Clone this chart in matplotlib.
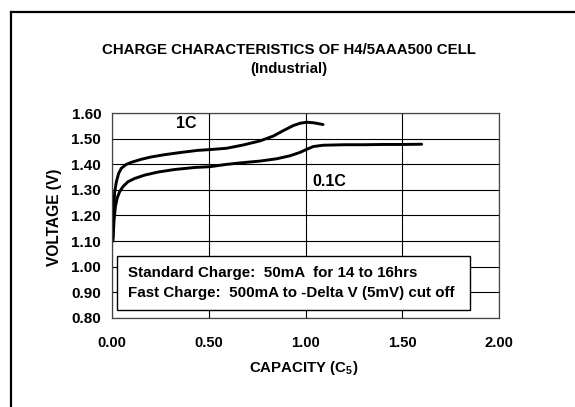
import matplotlib
matplotlib.use("Agg")
import matplotlib.pyplot as plt
from matplotlib.lines import Line2D
from matplotlib.patches import Rectangle

plt.rcParams["font.family"] = ["Liberation Sans", "DejaVu Sans"]
plt.rcParams["font.weight"] = "bold"
plt.rcParams["mathtext.fontset"] = "custom"
plt.rcParams["mathtext.rm"] = "Liberation Sans:bold"

# 1C charge curve (capacity in C5, voltage in V)
cap_1c = [0.003, 0.008, 0.012, 0.021, 0.033, 0.047, 0.072, 0.098, 0.15, 0.20, 0.27,
          0.357, 0.443, 0.505, 0.59, 0.677, 0.764, 0.833, 0.884, 0.936, 0.971,
          1.005, 1.04, 1.077, 1.09]
volt_1c = [1.11, 1.22, 1.29, 1.332, 1.365, 1.385, 1.40, 1.408, 1.42, 1.429, 1.438,
           1.447, 1.455, 1.458, 1.463, 1.476, 1.492, 1.511, 1.532, 1.552, 1.561,
           1.565, 1.563, 1.558, 1.556]

# 0.1C charge curve
cap_01c = [0.003, 0.009, 0.016, 0.026, 0.038, 0.055, 0.081, 0.116, 0.167, 0.236,
           0.322, 0.426, 0.505, 0.59, 0.677, 0.764, 0.85, 0.92, 0.971, 1.005,
           1.04, 1.09, 1.2, 1.3, 1.4, 1.5, 1.6]
volt_01c = [1.10, 1.18, 1.235, 1.27, 1.293, 1.313, 1.332, 1.345, 1.358, 1.37,
            1.38, 1.388, 1.391, 1.40, 1.407, 1.413, 1.422, 1.434, 1.447, 1.459,
            1.47, 1.475, 1.477, 1.477, 1.478, 1.478, 1.479]

x_ticks = [0.0, 0.5, 1.0, 1.5, 2.0]
y_ticks = [0.8, 0.9, 1.0, 1.1, 1.2, 1.3, 1.4, 1.5, 1.6]

W, H = 575, 407
fig = plt.figure(figsize=(W / 100, H / 100), dpi=100)
ax = fig.add_axes([112.3 / W, 1 - 317.7 / H, 386.7 / W, 204.4 / H])

ax.plot(cap_1c, volt_1c, color="black", lw=2.1, solid_capstyle="round")
ax.plot(cap_01c, volt_01c, color="black", lw=2.1, solid_capstyle="round")

ax.set_xlim(0, 2)
ax.set_ylim(0.8, 1.6)
ax.set_xticks(x_ticks)
ax.set_yticks(y_ticks)
ax.set_xticklabels([f"{v:.2f}" for v in x_ticks], fontsize=10.6, fontweight="bold")
ax.set_yticklabels([f"{v:.2f}" for v in y_ticks], fontsize=11, fontweight="bold")
ax.tick_params(axis="x", length=0, pad=13)
ax.tick_params(axis="y", length=0, pad=8)
ax.grid(True, color="black", lw=0.8)
ax.set_axisbelow(True)
for s in ax.spines.values():
    s.set_color("#444444")
    s.set_linewidth(0.9)

ax.text(0.381, 1.562, "1C", fontsize=11.5, fontweight="bold", ha="center", va="center")
ax.text(1.12, 1.335, "0.1C", fontsize=11.5, fontweight="bold", ha="center", va="center")

# note box
ax.add_patch(Rectangle((0.012, 0.038), 0.914, 0.265, transform=ax.transAxes,
                       facecolor="white", edgecolor="black", lw=1.0, zorder=3))
ax.text(0.04, 0.22, "Standard Charge:  50mA  for 14 to 16hrs", transform=ax.transAxes,
        fontsize=10.9, fontweight="bold", va="center", zorder=4)
ax.text(0.04, 0.119, "Fast Charge:  500mA to -Delta V (5mV) cut off", transform=ax.transAxes,
        fontsize=10.9, fontweight="bold", va="center", zorder=4)

fig.text(289 / W, 1 - 50 / H, "CHARGE CHARACTERISTICS OF H4/5AAA500 CELL",
         fontsize=10.8, fontweight="bold", ha="center", va="center")
fig.text(289 / W, 1 - 69.5 / H, "(Industrial)",
         fontsize=10.8, fontweight="bold", ha="center", va="center")
fig.text(304 / W, 1 - 368 / H, r"CAPACITY (C$\mathrm{_5}$)",
         fontsize=10.8, fontweight="bold", ha="center", va="center")
fig.text(55 / W, 1 - 217 / H, "VOLTAGE (V)", rotation=90,
         fontsize=11.2, fontweight="bold", ha="center", va="center")

# outer frame (left and top edges)
fig.add_artist(Line2D([11 / W, 11 / W], [0, 1 - 12 / H], color="black", lw=1.6,
                      transform=fig.transFigure))
fig.add_artist(Line2D([11 / W, 1], [1 - 12 / H, 1 - 12 / H], color="black", lw=1.6,
                      transform=fig.transFigure))

fig.savefig("out.png", dpi=100)
